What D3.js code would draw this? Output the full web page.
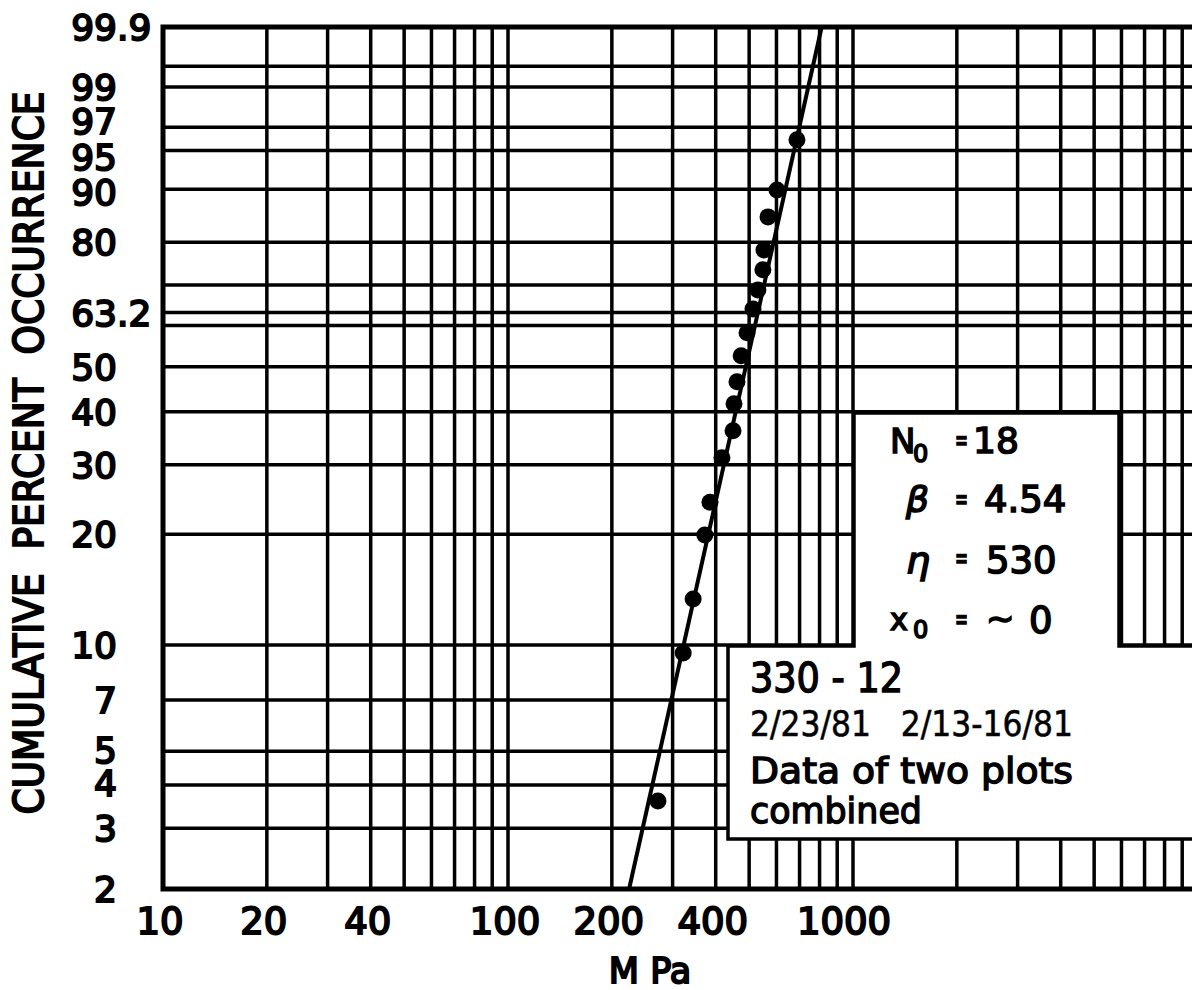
<!DOCTYPE html>
<html>
<head>
<meta charset="utf-8">
<script src="https://cdn.jsdelivr.net/npm/d3@7"></script>
<style>
  body { margin: 0; background: #fff; }
  svg { display: block; }
  text { font-family: "DejaVu Sans", sans-serif; fill: #000; }
</style>
</head>
<body>
<div id="chart"></div>
<script>
// weibull plot, sample 330-12 (two test dates combined)
var stressMPa = [272, 322, 344, 372, 385, 417, 449, 452, 461, 474, 493, 513, 530, 548, 552, 567, 602, 688];
var cumPercent = [3.6, 9.5, 13.4, 19.9, 24.2, 31.2, 36.2, 41.7, 46.5, 52.6, 58.2, 64.1, 68.8, 73.7, 78.3, 85.2, 89.9, 96.0];

var fitBeta = 4.54;
var fitEta = 530;

var xTickLabels = [10, 20, 40, 100, 200, 400, 1000];
var yGridPercent = [99.9, 99.5, 99, 97, 95, 90, 80, 70, 63.2, 60, 50, 40, 30, 20, 10, 7, 5, 4, 3, 2];
var yTickLabels = ["99.9", "99", "97", "95", "90", "80", "63.2", "50", "40", "30", "20", "10", "7", "5", "4", "3", "2"];

var W = 1192, H = 990;
var plotL = 163, plotR = 1198, plotT = 27, plotB = 889;

// weibull transform of a cumulative percent
function weib(p) {
    return Math.log(-Math.log(1 - p / 100));
}

var x = d3.scaleLog().domain([10, 10000]).range([plotL, plotR]);
var y = d3.scaleLinear().domain([weib(2), weib(99.9)]).range([plotB, plotT]);

var svg = d3.select("#chart").append("svg")
    .attr("width", W)
    .attr("height", H);

// grid
var grid = svg.append("g").attr("stroke", "#000").attr("stroke-width", 3.5);

grid.selectAll("line.v")
    .data(x.ticks())
    .enter()
    .append("line")
    .attr("class", "v")
    .attr("x1", function(d) { return x(d); })
    .attr("x2", function(d) { return x(d); })
    .attr("y1", plotT)
    .attr("y2", plotB);

grid.selectAll("line.h")
    .data(yGridPercent)
    .enter()
    .append("line")
    .attr("class", "h")
    .attr("x1", plotL)
    .attr("x2", plotR)
    .attr("y1", function(d) { return y(weib(d)); })
    .attr("y2", function(d) { return y(weib(d)); });

// frame
svg.append("path")
    .attr("d", "M" + (plotR + 5) + "," + plotT + "H" + plotL + "V" + plotB + "H" + (plotR + 5))
    .attr("fill", "none")
    .attr("stroke", "#000")
    .attr("stroke-width", 5);

// fitted line from beta / eta
var fitEnds = [2, 99.9].map(function(p) {
    return [fitEta * Math.pow(-Math.log(1 - p / 100), 1 / fitBeta), p];
});
svg.append("path")
    .datum(fitEnds)
    .attr("d", d3.line()
        .x(function(d) { return x(d[0]); })
        .y(function(d) { return y(weib(d[1])); }))
    .attr("stroke", "#000")
    .attr("stroke-width", 4)
    .attr("fill", "none");

svg.selectAll("circle.pt")
    .data(stressMPa)
    .enter()
    .append("circle")
    .attr("class", "pt")
    .attr("cx", function(d) { return x(d); })
    .attr("cy", function(d, i) { return y(weib(cumPercent[i])); })
    .attr("r", 8.5)
    .attr("fill", "#000");

// pasted label boxes
var boxOutline = [[728, 646], [854, 646], [854, 413], [1119, 413], [1119, 646], [1205, 646], [1205, 839], [728, 839]];
svg.append("path")
    .attr("d", d3.line()(boxOutline) + "Z")
    .attr("fill", "#fff")
    .attr("stroke", "#000")
    .attr("stroke-width", 3.5);

// y tick labels, lined up on the decimal point
var nudge = {"97": -6, "95": 7, "90": 3, "4": -2, "5": -1};
var yLab = svg.append("g")
    .attr("font-size", 36)
    .attr("stroke", "#000")
    .attr("stroke-width", 2);

yTickLabels.forEach(function(s) {
    var yy = y(weib(+s)) + (nudge[s] || 0);
    var parts = s.split(".");
    yLab.append("text")
        .attr("x", 117)
        .attr("y", yy)
        .attr("dy", "0.36em")
        .attr("text-anchor", "end")
        .text(parts[0]);
    if (parts[1]) {
        yLab.append("text")
            .attr("x", 117)
            .attr("y", yy)
            .attr("dy", "0.36em")
            .text("." + parts[1]);
    }
});

// x tick labels
svg.append("g")
    .attr("font-size", 37)
    .attr("stroke", "#000")
    .attr("stroke-width", 2)
    .selectAll("text")
    .data(xTickLabels)
    .enter()
    .append("text")
    .attr("x", function(d) { return x(d) - (d == 1000 ? 9 : 3); })
    .attr("y", 934)
    .attr("text-anchor", "middle")
    .text(function(d) { return d; });

svg.append("text")
    .attr("x", 650)
    .attr("y", 983)
    .attr("text-anchor", "middle")
    .attr("font-size", 35)
    .attr("stroke", "#000")
    .attr("stroke-width", 2)
    .text("M Pa");

svg.append("text")
    .attr("transform", "translate(43,453) rotate(-90)")
    .attr("text-anchor", "middle")
    .attr("font-size", 40)
    .attr("stroke", "#000")
    .attr("stroke-width", 2)
    .attr("textLength", 723)
    .attr("lengthAdjust", "spacingAndGlyphs")
    .text("CUMULATIVE\u00a0\u00a0PERCENT\u00a0\u00a0OCCURRENCE");

// box 1: weibull parameters
var params = [
    {t: "N", x: 890, y: 453, size: 34},
    {t: "0", x: 913, y: 462, size: 24},
    {t: "=", x: 955, y: 450, size: 30, len: 13},
    {t: "18", x: 973, y: 453, size: 36},
    {t: "\u03b2", x: 906, y: 512, size: 36, italic: true},
    {t: "=", x: 955, y: 509, size: 30, len: 13},
    {t: "4.54", x: 984, y: 512, size: 37},
    {t: "\u03b7", x: 906, y: 573, size: 38, italic: true},
    {t: "=", x: 955, y: 568, size: 30, len: 13},
    {t: "530", x: 986, y: 573, size: 37},
    {t: "x", x: 890, y: 630, size: 30},
    {t: "0", x: 913, y: 638, size: 24},
    {t: "=", x: 955, y: 629, size: 30, len: 13},
    {t: "~", x: 986, y: 630, size: 34},
    {t: "0", x: 1029, y: 633, size: 37}
];
svg.append("g")
    .attr("stroke", "#000")
    .attr("stroke-width", 1.6)
    .selectAll("text")
    .data(params)
    .enter()
    .append("text")
    .attr("x", function(d) { return d.x; })
    .attr("y", function(d) { return d.y; })
    .attr("font-size", function(d) { return d.size; })
    .attr("font-style", function(d) { return d.italic ? "italic" : "normal"; })
    .attr("textLength", function(d) { return d.len || null; })
    .attr("lengthAdjust", "spacingAndGlyphs")
    .text(function(d) { return d.t; });

// box 2: sample id and notes
var notes = [
    {t: "330 - 12", x: 750, y: 692, size: 40, len: 153, sw: 1.4},
    {t: "2/23/81\u00a0\u00a0\u00a02/13-16/81", x: 750, y: 736, size: 36, len: 323, sw: 0.6},
    {t: "Data of two plots", x: 750, y: 783, size: 35, len: 323, sw: 1.4},
    {t: "combined", x: 750, y: 823, size: 35, len: 172, sw: 1.4}
];
svg.append("g")
    .attr("stroke", "#000")
    .selectAll("text")
    .data(notes)
    .enter()
    .append("text")
    .attr("x", function(d) { return d.x; })
    .attr("y", function(d) { return d.y; })
    .attr("font-size", function(d) { return d.size; })
    .attr("stroke-width", function(d) { return d.sw; })
    .attr("textLength", function(d) { return d.len; })
    .attr("lengthAdjust", "spacingAndGlyphs")
    .text(function(d) { return d.t; });
</script>
</body>
</html>
